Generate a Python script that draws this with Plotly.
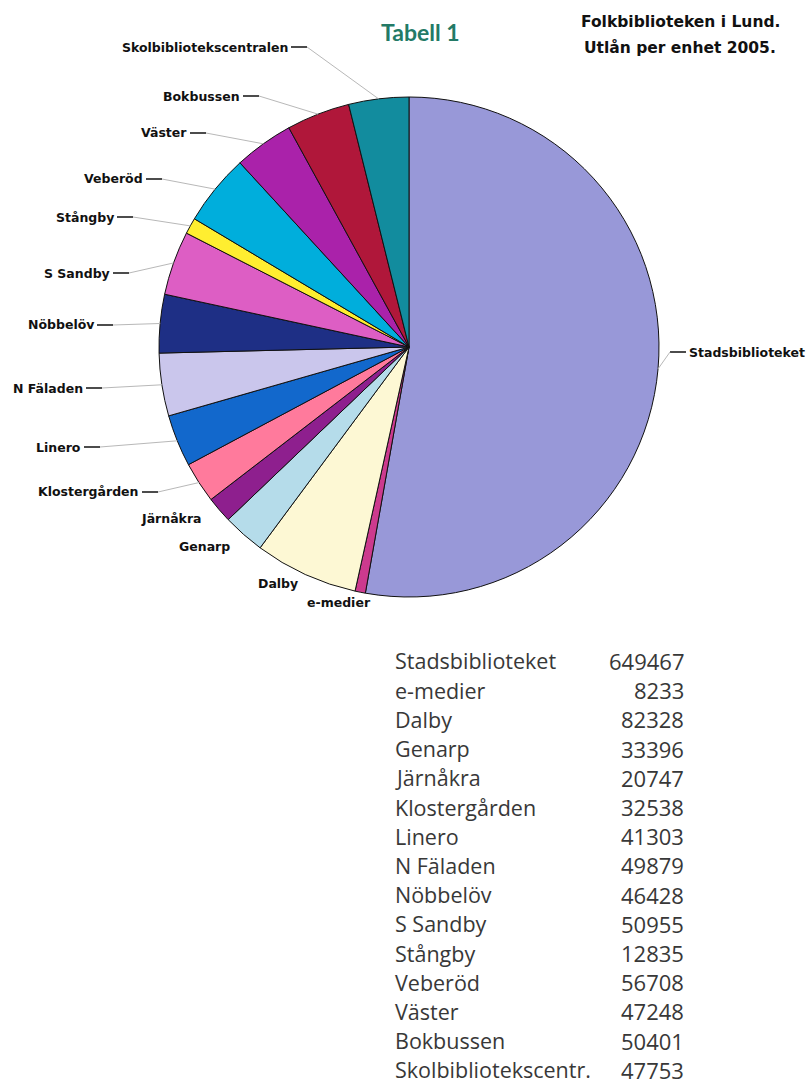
import math
import plotly.graph_objects as go

# ---------------- data ----------------
pie_labels = ["Stadsbiblioteket", "e-medier", "Dalby", "Genarp", "Järnåkra",
              "Klostergården", "Linero", "N Fäladen", "Nöbbelöv", "S Sandby",
              "Stångby", "Veberöd", "Väster", "Bokbussen", "Skolbibliotekscentralen"]
table_labels = ["Stadsbiblioteket", "e-medier", "Dalby", "Genarp", "Järnåkra",
                "Klostergården", "Linero", "N Fäladen", "Nöbbelöv", "S Sandby",
                "Stångby", "Veberöd", "Väster", "Bokbussen", "Skolbibliotekscentr."]
loans = [649467, 8233, 82328, 33396, 20747, 32538, 41303, 49879, 46428, 50955,
         12835, 56708, 47248, 50401, 47753]
colors = ["#9898D8", "#CC3A8E", "#FDF8D4", "#B5DCEA", "#8E1F8E",
          "#FF7A9C", "#1268CC", "#CAC6EC", "#1E2F85", "#DD5EC4",
          "#FFEE30", "#00AEDC", "#AA22AA", "#B0173A", "#128C9E"]
title_text = "Tabell 1"
subtitle_lines = ["Folkbiblioteken i Lund.", "Utlån per enhet 2005."]

# ---------------- layout constants ----------------
W, H = 812, 1086
PIE_CX, PIE_CY, PIE_R = 409, 347, 250

def px(x):
    return x / W

def py(y):
    return 1 - y / H

# label placement: (mode, x, y)  'dashL' = text left of dash (x = dash start),
# 'dashR' = dash then text to the right (x = dash start), 'plain' = text left edge at x
label_pos = {
    "Stadsbiblioteket": ("dashR", 670, 352),
    "e-medier": ("plain", 305, 602),
    "Dalby": ("plain", 256, 583),
    "Genarp": ("plain", 177, 546),
    "Järnåkra": ("plain", 139, 518),
    "Klostergården": ("dashL", 142, 492),
    "Linero": ("dashL", 84, 447),
    "N Fäladen": ("dashL", 86, 388),
    "Nöbbelöv": ("dashL", 97, 325),
    "S Sandby": ("dashL", 113, 273),
    "Stångby": ("dashL", 117, 217),
    "Veberöd": ("dashL", 146, 179),
    "Väster": ("dashL", 190, 133),
    "Bokbussen": ("dashL", 243, 96),
    "Skolbibliotekscentralen": ("dashL", 291, 47),
}
DASH = 16
label_font = dict(family="DejaVu Sans", size=12.5, color="#111111", weight="bold")

fig = go.Figure()
fig.add_trace(go.Pie(
    labels=pie_labels, values=loans, sort=False, direction="clockwise", rotation=0,
    marker=dict(colors=colors, line=dict(color="#111111", width=1)),
    textinfo="none", hoverinfo="label+value", showlegend=False,
    domain=dict(x=[px(PIE_CX - PIE_R), px(PIE_CX + PIE_R)],
                y=[py(PIE_CY + PIE_R), py(PIE_CY - PIE_R)]),
))

shapes = []
annotations = []
total = sum(loans)
cum = 0
for lab, val in zip(pie_labels, loans):
    mid = (cum + val / 2) / total * 2 * math.pi
    cum += val
    ex = PIE_CX + PIE_R * math.sin(mid)
    ey = PIE_CY - PIE_R * math.cos(mid)
    mode, x, y = label_pos[lab]
    if mode == "dashL":
        shapes.append(dict(type="line", xref="paper", yref="paper",
                           x0=px(x), x1=px(x + DASH), y0=py(y), y1=py(y),
                           line=dict(color="#111111", width=1.5)))
        shapes.append(dict(type="line", xref="paper", yref="paper",
                           x0=px(x + DASH), y0=py(y), x1=px(ex), y1=py(ey),
                           line=dict(color="#B8B8B8", width=1)))
        annotations.append(dict(x=px(x - 1), y=py(y), xref="paper", yref="paper",
                                text=lab, showarrow=False, xanchor="right",
                                yanchor="middle", font=label_font))
    elif mode == "dashR":
        shapes.append(dict(type="line", xref="paper", yref="paper",
                           x0=px(x), x1=px(x + DASH), y0=py(y), y1=py(y),
                           line=dict(color="#111111", width=1.5)))
        shapes.append(dict(type="line", xref="paper", yref="paper",
                           x0=px(ex), y0=py(ey), x1=px(x), y1=py(y),
                           line=dict(color="#B8B8B8", width=1)))
        annotations.append(dict(x=px(x + DASH + 1), y=py(y), xref="paper", yref="paper",
                                text=lab, showarrow=False, xanchor="left",
                                yanchor="middle", font=label_font))
    else:
        annotations.append(dict(x=px(x), y=py(y), xref="paper", yref="paper",
                                text=lab, showarrow=False, xanchor="left",
                                yanchor="middle", font=label_font))

# title and subtitle
annotations.append(dict(x=px(421), y=py(32), xref="paper", yref="paper",
                        text=title_text, showarrow=False, xanchor="center",
                        yanchor="middle",
                        font=dict(family="Lato", size=23, color="#237A66", weight="bold")))
for line_text, yy in zip(subtitle_lines, [22, 47]):
    annotations.append(dict(x=px(680), y=py(yy), xref="paper", yref="paper",
                            text=line_text, showarrow=False,
                            xanchor="center", yanchor="middle",
                            font=dict(family="DejaVu Sans", size=15.5, color="#111111",
                                      weight="bold")))

# table below
ROW0, ROW_H = 661, 29.2
for i, (lab, val) in enumerate(zip(table_labels, loans)):
    yy = ROW0 + i * ROW_H
    annotations.append(dict(x=px(393), y=py(yy), xref="paper", yref="paper",
                            text=lab, showarrow=False, xanchor="left", yanchor="middle",
                            font=dict(family="Open Sans", size=21.5, color="#383838")))
    annotations.append(dict(x=px(686), y=py(yy), xref="paper", yref="paper",
                            text=str(val), showarrow=False, xanchor="right",
                            yanchor="middle",
                            font=dict(family="Open Sans", size=22, color="#383838")))

fig.update_layout(
    width=W, height=H, margin=dict(l=0, r=0, t=0, b=0),
    paper_bgcolor="white", plot_bgcolor="white",
    shapes=shapes, annotations=annotations,
)
fig.write_html("out.html", config={"displayModeBar": False},
               post_script="document.body.style.margin='0';document.body.style.overflow='hidden';")
